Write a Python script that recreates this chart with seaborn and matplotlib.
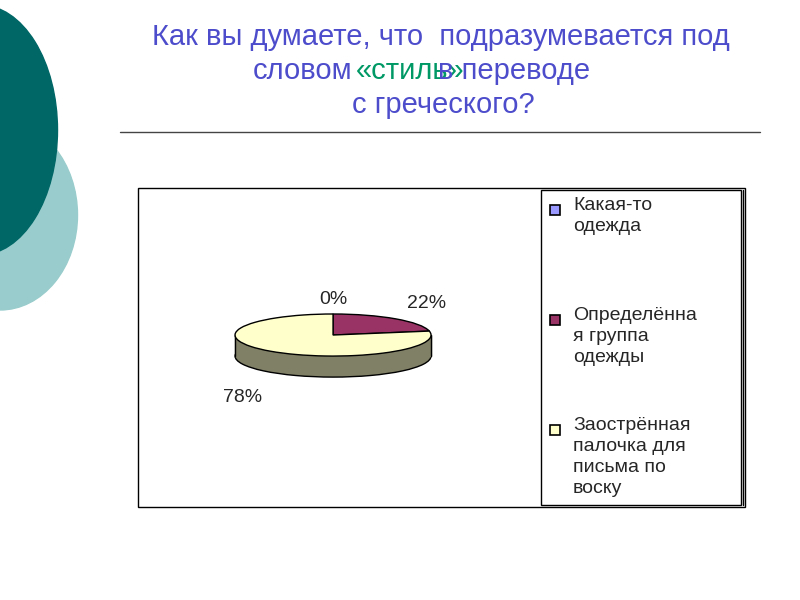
import matplotlib.pyplot as plt
import matplotlib.patches as mpatches
import seaborn as sns

categories = ["Какая-то\nодежда", "Определённа\nя группа\nодежды", "Заострённая\nпалочка для\nписьма по\nвоску"]
values = [0, 22, 78]
pct_labels = ["0%", "22%", "78%"]
colors = ["#9999ff", "#993366", "#ffffcc"]
side_color = "#808066"

sns.set_theme(style="white")
plt.rcParams["font.family"] = ["Liberation Sans", "DejaVu Sans"]

fig = plt.figure(figsize=(8, 6), dpi=100)
W, H = 800, 600

# decorative circles at the left
bg = fig.add_axes([0, 0, 1, 1])
bg.set_xlim(0, W)
bg.set_ylim(H, 0)
bg.axis("off")
bg.add_patch(mpatches.Ellipse((0, 215), 155, 190, color="#99cccc"))
bg.add_patch(mpatches.Ellipse((-20, 130), 155, 250, color="#006666"))
bg.plot([120, 760], [132, 132], color="#444444", lw=1)
bg.add_patch(mpatches.Rectangle((138, 188), 607, 319, fill=False, ec="black", lw=1))
bg.add_patch(mpatches.Rectangle((541, 190), 200, 315, fill=False, ec="black", lw=1))
bg.plot([743, 743], [190, 505], color="black", lw=1)

title_c = "#4d4dcc"
ts = 21
bg.text(441, 37, "Как вы думаете, что  подразумевается под", color=title_c, fontsize=ts, ha="center", va="center")
bg.text(352, 71, "словом", color=title_c, fontsize=ts, ha="right", va="center")
bg.text(356, 71, "«стиль»", color="#009966", fontsize=ts, ha="left", va="center")
bg.text(438, 71, "в переводе", color=title_c, fontsize=ts, ha="left", va="center")
bg.text(443, 105, "с греческого?", color=title_c, fontsize=ts, ha="center", va="center")

# flattened 3d pie
ax = fig.add_axes([0.2693, 0.3575, 0.294, 0.1367])
ax.patch.set_alpha(0)
depth = 1.0
ax.pie([1], colors=[side_color], center=(0, -depth), radius=1,
       wedgeprops=dict(ec="black", lw=1))
ax.add_patch(mpatches.Rectangle((-1, -depth), 2, depth, color=side_color, zorder=1))
ax.plot([-1, -1], [-depth, 0], color="black", lw=1)
ax.plot([1, 1], [-depth, 0], color="black", lw=1)
wedges, _ = ax.pie(values, colors=colors, startangle=90, counterclock=False,
                   radius=1, wedgeprops=dict(ec="black", lw=1))
for w in wedges:
    w.set_zorder(3)
ax.set_aspect("auto")
ax.set_xlim(-1.2, 1.2)
ax.set_ylim(-2.4, 1.5)
ax.axis("off")

bg.text(333, 300, pct_labels[0], fontsize=14, ha="center", va="center")
bg.text(427, 303, pct_labels[1], fontsize=14, ha="center", va="center")
bg.text(243, 397, pct_labels[2], fontsize=14, ha="center", va="center")

# legend
ly = [220, 330, 440]
for y, c, lab in zip(ly, colors, categories):
    bg.add_patch(mpatches.Rectangle((550, y - 15), 10, 10, fc=c, ec="black", lw=1.2))
    t = bg.text(573, y - 23, lab, fontsize=14, ha="left", va="top", linespacing=1.3)
    t.set_clip_path(mpatches.Rectangle((541, 190), 200, 315, transform=bg.transData))

fig.savefig("out.png", dpi=100)
